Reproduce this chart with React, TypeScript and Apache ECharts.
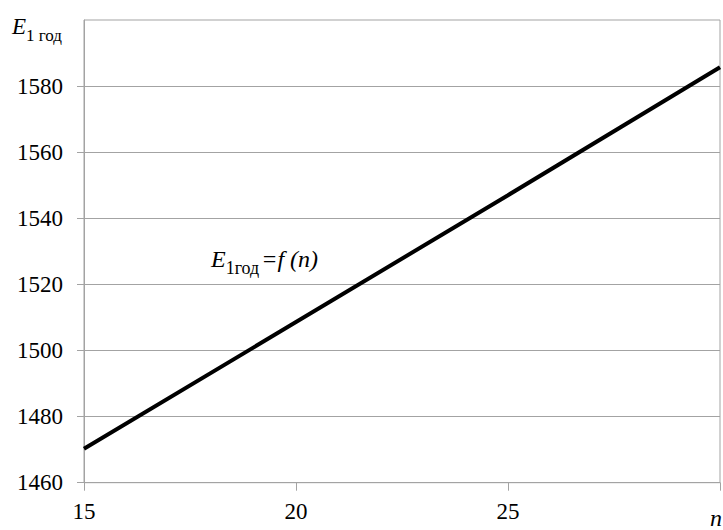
import React, { useEffect, useRef } from "react";
import * as echarts from "echarts";

const nValues = [15, 20, 25, 30];
const energyValues = [1470.3, 1508.6, 1547.0, 1585.7];
const yTickValues = [1460, 1480, 1500, 1520, 1540, 1560, 1580];
const xTickLabels = [15, 20, 25];

const FONT = '"Liberation Serif", "Times New Roman", Tinos, "DejaVu Serif", serif';
const GRID_COLOR = "#a3a3a3";

export default function App() {
  const ref = useRef<HTMLDivElement>(null);

  useEffect(() => {
    document.body.style.margin = "0";
    if (!ref.current) return;
    const chart = echarts.init(ref.current, undefined, { renderer: "svg" });
    chart.setOption({
      animation: false,
      backgroundColor: "#ffffff",
      textStyle: { fontFamily: FONT },
      grid: {
        left: 84,
        top: 20,
        right: -2.5,
        bottom: 47.3,
        show: true,
        borderColor: GRID_COLOR,
        borderWidth: 1,
      },
      xAxis: {
        type: "value",
        min: 15,
        max: 30,
        interval: 5,
        axisLine: { show: true, lineStyle: { color: GRID_COLOR, width: 1 } },
        axisTick: { show: true, length: 8, lineStyle: { color: GRID_COLOR } },
        splitLine: { show: false },
        axisLabel: {
          margin: 17,
          color: "#000",
          fontFamily: FONT,
          fontSize: 23,
          formatter: (v: number) => (xTickLabels.includes(v) ? String(v) : ""),
        },
      },
      yAxis: {
        type: "value",
        min: 1460,
        max: 1600,
        interval: 20,
        axisLine: { show: true, lineStyle: { color: GRID_COLOR, width: 1 } },
        axisTick: {
          show: true,
          length: 7,
          lineStyle: { color: GRID_COLOR },
          customValues: yTickValues,
        },
        splitLine: { show: true, lineStyle: { color: GRID_COLOR, width: 1 } },
        axisLabel: {
          margin: 21,
          color: "#000",
          fontFamily: FONT,
          fontSize: 23,
          formatter: (v: number) => (yTickValues.includes(v) ? String(v) : ""),
        },
      },
      series: [
        {
          type: "line",
          data: nValues.map((n, i) => [n, energyValues[i]]),
          showSymbol: false,
          lineStyle: { color: "#000", width: 4 },
          itemStyle: { color: "#000" },
        },
      ],
      graphic: [
        {
          type: "text",
          left: 12,
          top: 15,
          style: {
            text: "{e|E}{s|1 год}",
            fill: "#000",
            rich: {
              e: {
                fontFamily: FONT,
                fontStyle: "italic",
                fontSize: 23,
                lineHeight: 24,
                verticalAlign: "top",
                fill: "#000",
              },
              s: {
                fontFamily: FONT,
                fontSize: 17,
                lineHeight: 17,
                padding: [12, 0, 0, 0],
                verticalAlign: "top",
                fill: "#000",
              },
            },
          },
        },
        {
          type: "text",
          left: 211,
          top: 247,
          style: {
            text: "{e|E}{s|1год}{r|=f (n)}",
            fill: "#000",
            rich: {
              e: {
                fontFamily: FONT,
                fontStyle: "italic",
                fontSize: 24,
                lineHeight: 25,
                verticalAlign: "top",
                fill: "#000",
              },
              s: {
                fontFamily: FONT,
                fontSize: 18,
                lineHeight: 18,
                padding: [12, 2, 0, 0],
                verticalAlign: "top",
                fill: "#000",
              },
              r: {
                fontFamily: FONT,
                fontStyle: "italic",
                fontSize: 24,
                lineHeight: 25,
                verticalAlign: "top",
                fill: "#000",
              },
            },
          },
        },
        {
          type: "text",
          left: 710,
          top: 506,
          style: {
            text: "n",
            fontFamily: FONT,
            fontStyle: "italic",
            fontSize: 24,
            fill: "#000",
          },
        },
      ],
    });
    return () => chart.dispose();
  }, []);

  return <div ref={ref} style={{ width: 723, height: 530 }} />;
}
